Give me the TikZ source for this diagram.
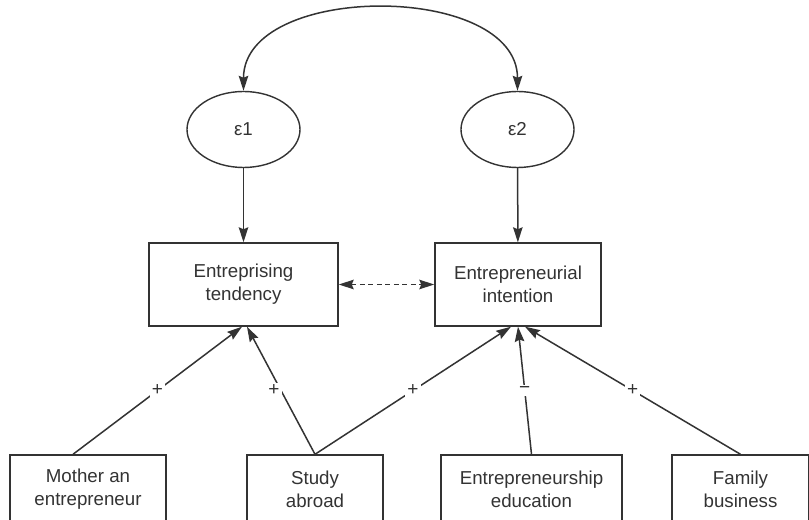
\documentclass[tikz,border=0pt]{standalone}
\usepackage{fontspec}
\setmainfont{Liberation Sans}
\usetikzlibrary{shapes.geometric,arrows.meta,calc}
\definecolor{ink}{HTML}{333333}
\begin{document}
\begin{tikzpicture}[x=1bp,y=-1bp,
  every node/.style={text=ink,font=\fontsize{18.7bp}{23bp}\selectfont,align=center,inner sep=0pt},
  errterm/.style={ellipse,draw=ink,line width=1.4bp,minimum width=113bp,minimum height=76bp},
  varbox/.style={rectangle,draw=ink,line width=1.4bp,minimum height=83bp},
  srcbox/.style={rectangle,draw=ink,line width=1.4bp,minimum height=68bp},
  head/.tip={Stealth[inset=2bp,length=15bp,width=9.5bp]},
  path/.style={draw=ink,line width=1.5bp,-head},
  sign/.style={fill=white,inner sep=2bp,font=\fontsize{19bp}{19bp}\selectfont}
]
\fill[white] (0,0) rectangle (809,520);
\useasboundingbox (0,0) rectangle (809,520);
\clip (0,0) rectangle (809,520);

% error terms
\node[errterm] (e1) at (243.5,129.5) {ε1};
\node[errterm] (e2) at (517.5,129.5) {ε2};

% outcome variables
\node[varbox,minimum width=189bp] (tend) at (243.5,284.5) {Entreprising\\tendency};
\node[varbox,minimum width=166bp] (intent) at (518,284.5) {Entrepreneurial\\intention};

% predictors
\node[srcbox,minimum width=156bp] (mother) at (88,489) {Mother an\\entrepreneur};
\node[srcbox,minimum width=136bp] (study) at (315,489) {Study\\abroad};
\node[srcbox,minimum width=181bp] (edu) at (531.5,489) {Entrepreneurship\\education};
\node[srcbox,minimum width=137bp] (family) at (740.5,489) {Family\\business};

% error covariance
\draw[draw=ink,line width=1.5bp,head-head]
  (e1.north) .. controls (243.5,-18) and (517.5,-18) .. (e2.north);

% disturbances
\draw[path] (e1) -- (tend);
\draw[path] (e2) -- (intent);

% association between outcomes
\draw[draw=ink,line width=1.5bp,dash pattern=on 5bp off 3.5bp,head-head]
  (tend.east) -- (intent.west);

% effects
\draw[path] ([xshift=-15bp]mother.north) -- node[sign,pos=0.5] {+} ([xshift=-1.5bp]tend.south);
\draw[path] (study.north) -- node[sign,pos=0.5,xshift=-7bp] {+} ([xshift=3.5bp]tend.south);
\draw[path] (study.north) -- node[sign,pos=0.5] {+} ([xshift=-7bp]intent.south);
\draw[path] (edu.north) -- node[sign,pos=0.5] {−} (intent.south);
\draw[path] (family.north) -- node[sign,pos=0.5] {+} ([xshift=7bp]intent.south);
\end{tikzpicture}
\end{document}
